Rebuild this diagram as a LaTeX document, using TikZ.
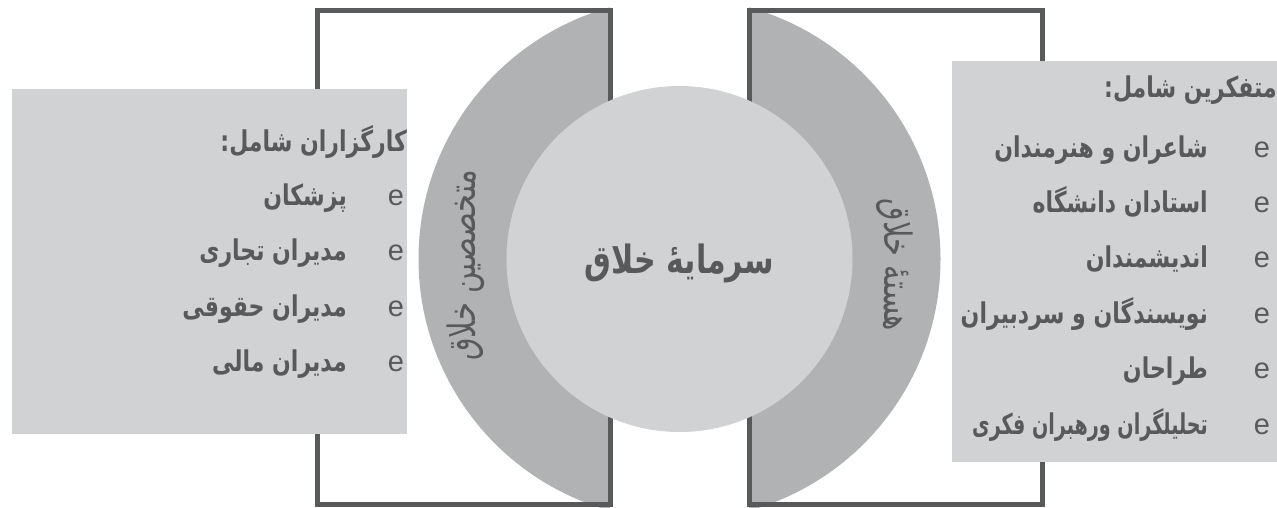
\documentclass[tikz,border=0pt]{standalone}
\usepackage{fontspec}
\setmainfont{DejaVu Sans}
\newfontfamily\farsi[Script=Arabic]{DejaVu Sans}
\newfontfamily\latinfont{Liberation Sans}
\TeXXeTstate=1
\usepackage{xcolor}
\usepackage{tikz}
\usetikzlibrary{positioning}
\definecolor{framegray}{HTML}{58595B}
\definecolor{ringgray}{HTML}{B1B2B4}
\definecolor{coregray}{HTML}{D1D2D4}
\definecolor{textgray}{HTML}{58595B}
\newcommand{\fa}[2][1]{\scalebox{#1}[1.3]{\beginR #2\endR}}
\tikzset{
  frame/.style={draw=framegray, line width=5pt},
  listbox/.style={fill=coregray},
  headtext/.style={anchor=base east, inner sep=0pt, text=textgray, font=\farsi\bfseries\fontsize{22}{22}\selectfont},
  itemtext/.style={anchor=base east, inner sep=0pt, text=textgray, font=\farsi\bfseries\fontsize{22}{22}\selectfont},
  bulletmark/.style={anchor=base, inner sep=0pt, text=textgray, font=\latinfont\fontsize{29}{29}\selectfont},
  ringtext/.style={inner sep=0pt, text=textgray, font=\farsi\fontsize{29}{29}\selectfont},
}

\begin{document}
\begin{tikzpicture}[x=1pt,y=-1pt]
\useasboundingbox (0,0) rectangle (1277,507);
\coordinate (C) at (679.5,259);
% outer ring, cut by the two frames
\begin{scope}
\clip (0,-10) rectangle (610,520) (749,-10) rectangle (1290,520);
\fill[ringgray] (C) circle[radius=261pt];
\end{scope}
\draw[frame] (317.5,10) rectangle (610,504);
\draw[frame] (749,10) rectangle (1042,504);
\fill[coregray] (C) circle[radius=173pt];
\node[anchor=base, inner sep=0pt, text=textgray, font=\farsi\bfseries\fontsize{30}{30}\selectfont] (hub) at (679.5,273) {\fa{سرمایهٔ خلاق}};
\node[ringtext, rotate=90] (experts) at (466,265) {\fa[1]{متخصصین خلاق}};
\node[ringtext, rotate=-90] (core) at (895,265) {\fa[1]{هستهٔ خلاق}};
% left list
\fill[listbox] (12,89) rectangle (407,434);
\node[headtext] (agents) at (407,151) {\fa{کارگزاران شامل:}};
\node[bulletmark] (a1) at (396,205) {e};
\node[bulletmark] (a2) at (396,260) {e};
\node[bulletmark] (a3) at (396,316) {e};
\node[bulletmark] (a4) at (396,371) {e};
\node[itemtext] (doctors) at (347,205) {\fa{پزشکان}};
\node[itemtext] (business) at (347,260) {\fa{مدیران تجاری}};
\node[itemtext] (legal) at (347,316) {\fa{مدیران حقوقی}};
\node[itemtext] (finance) at (347,371) {\fa{مدیران مالی}};
% right list
\fill[listbox] (952,61) rectangle (1277,462);
\node[headtext] (thinkers) at (1277,97) {\fa{متفکرین شامل:}};
\node[bulletmark] (t1) at (1262,157) {e};
\node[bulletmark] (t2) at (1262,212) {e};
\node[bulletmark] (t3) at (1262,267) {e};
\node[bulletmark] (t4) at (1262,323) {e};
\node[bulletmark] (t5) at (1262,378) {e};
\node[bulletmark] (t6) at (1262,434) {e};
\node[itemtext] (poets) at (1208,157) {\fa{شاعران و هنرمندان}};
\node[itemtext] (profs) at (1208,212) {\fa{استادان دانشگاه}};
\node[itemtext] (intel) at (1208,267) {\fa{اندیشمندان}};
\node[itemtext] (writers) at (1208,323) {\fa{نویسندگان و سردبیران}};
\node[itemtext] (designers) at (1208,378) {\fa{طراحان}};
\node[itemtext] (analysts) at (1208,434) {\fa[0.87]{تحلیلگران ورهبران فکری}};
\end{tikzpicture}
\end{document}
